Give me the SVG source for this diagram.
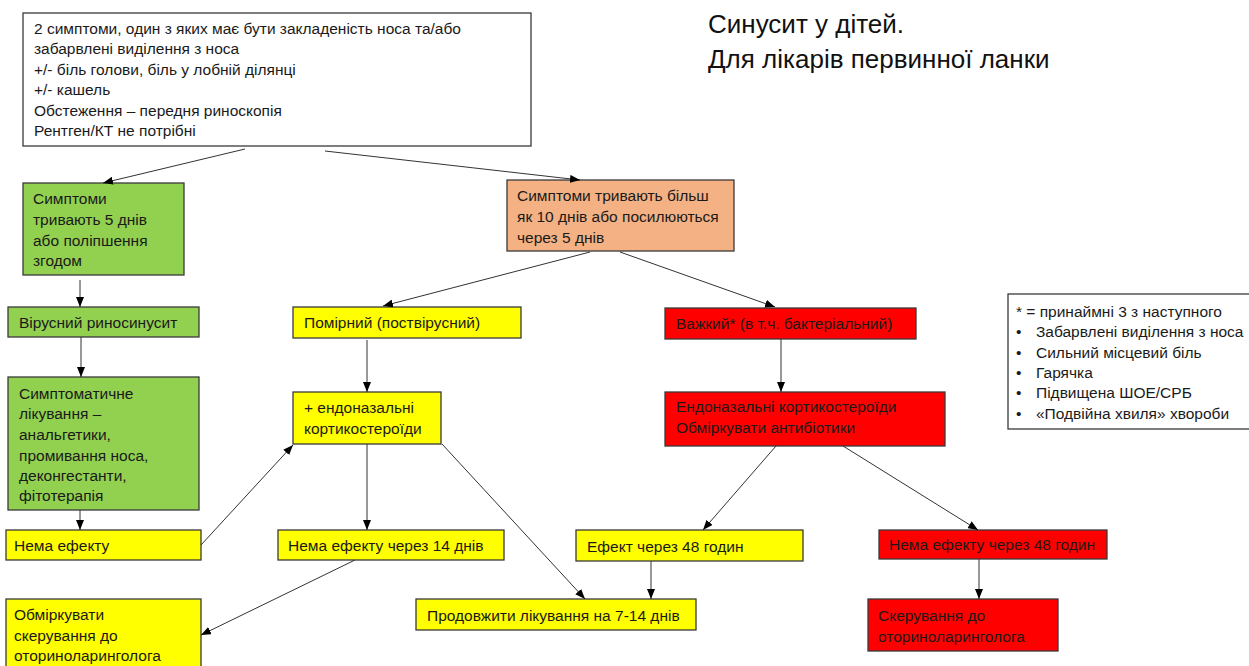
<svg xmlns="http://www.w3.org/2000/svg" width="1249" height="666" viewBox="0 0 1249 666">
<defs>
<marker id="ah" markerUnits="userSpaceOnUse" markerWidth="10" markerHeight="8" refX="10" refY="4" orient="auto">
<path d="M0,0 L10,4 L0,8 z" fill="#000"/>
</marker>
<style>
.b{stroke:#3a3a3a;stroke-width:1.3}
.w{fill:#fff}.g{fill:#92D050}.y{fill:#FFFF00}.r{fill:#FF0000}.o{fill:#F4B183}
text{font-family:"Liberation Sans",Arial,sans-serif;font-size:15.5px;fill:#1a1a1a}
.t{font-size:26px;fill:#111}
.c line{stroke:#333;stroke-width:1;marker-end:url(#ah)}
</style>
</defs>
<rect width="1249" height="666" fill="#fff"/>
<g id="title">
<text class="t" x="708" y="33">Синусит у дітей.</text>
<text class="t" x="708" y="68">Для лікарів первинної ланки</text>
</g>
<g id="n0">
<rect class="b w" x="23" y="13" width="508" height="133"/>
<text x="34" y="34">2 симптоми, один з яких має бути закладеність носа та/або</text>
<text x="34" y="54">забарвлені виділення з носа</text>
<text x="34" y="75">+/- біль голови, біль у лобній ділянці</text>
<text x="34" y="95">+/- кашель</text>
<text x="34" y="116">Обстеження – передня риноскопія</text>
<text x="34" y="136">Рентген/КТ не потрібні</text>
</g>
<g id="n1">
<rect class="b g" x="23" y="183" width="161" height="92"/>
<text x="33" y="204">Симптоми</text>
<text x="33" y="225">тривають 5 днів</text>
<text x="33" y="246">або поліпшення</text>
<text x="33" y="266">згодом</text>
</g>
<g id="n2">
<rect class="b g" x="8" y="307" width="191" height="30"/>
<text x="19" y="328">Вірусний риносинусит</text>
</g>
<g id="n3">
<rect class="b g" x="8" y="377" width="191" height="133"/>
<text x="19" y="399">Симптоматичне</text>
<text x="19" y="419">лікування –</text>
<text x="19" y="440">анальгетики,</text>
<text x="19" y="461">промивання носа,</text>
<text x="19" y="481">деконгестанти,</text>
<text x="19" y="501">фітотерапія</text>
</g>
<g id="n4">
<rect class="b y" x="6" y="530" width="195" height="30"/>
<text x="14" y="551">Нема ефекту</text>
</g>
<g id="n5">
<rect class="b y" x="6" y="599" width="195" height="70"/>
<text x="14" y="620">Обміркувати</text>
<text x="14" y="641">скерування до</text>
<text x="14" y="661">оториноларинголога</text>
</g>
<g id="n6">
<rect class="b o" x="507" y="180" width="227" height="71"/>
<text x="517" y="201">Симптоми тривають більш</text>
<text x="517" y="222">як 10 днів або посилюються</text>
<text x="517" y="243">через 5 днів</text>
</g>
<g id="n7">
<rect class="b y" x="293" y="307" width="228" height="31"/>
<text x="304" y="328">Помірний (поствірусний)</text>
</g>
<g id="n8">
<rect class="b y" x="293" y="392" width="148" height="52"/>
<text x="304" y="413">+ ендоназальні</text>
<text x="304" y="434">кортикостероїди</text>
</g>
<g id="n9">
<rect class="b y" x="278" y="530" width="226" height="30"/>
<text x="288" y="551">Нема ефекту через 14 днів</text>
</g>
<g id="n10">
<rect class="b y" x="416" y="599" width="280" height="31"/>
<text x="427" y="621">Продовжити лікування на 7-14 днів</text>
</g>
<g id="n11">
<rect class="b r" x="665" y="308" width="251" height="31"/>
<text x="676" y="329">Важкий* (в т.ч. бактеріальний)</text>
</g>
<g id="n12">
<rect class="b r" x="665" y="392" width="280" height="54"/>
<text x="676" y="412">Ендоназальні кортикостероїди</text>
<text x="676" y="433">Обміркувати антибіотики</text>
</g>
<g id="n13">
<rect class="b y" x="576" y="530" width="227" height="31"/>
<text x="587" y="552">Ефект через 48 годин</text>
</g>
<g id="n14">
<rect class="b r" x="879" y="530" width="228" height="29"/>
<text x="889" y="550">Нема ефекту через 48 годин</text>
</g>
<g id="n15">
<rect class="b r" x="868" y="599" width="190" height="52"/>
<text x="878" y="621">Скерування до</text>
<text x="878" y="642">оториноларинголога</text>
</g>
<g id="legend">
<rect class="b w" x="1008" y="294" width="245" height="135"/>
<text x="1016" y="317">* = принаймні 3 з наступного</text>
<text x="1016" y="337">•</text><text x="1036" y="337">Забарвлені виділення з носа</text>
<text x="1016" y="358">•</text><text x="1036" y="358">Сильний місцевий біль</text>
<text x="1016" y="378">•</text><text x="1036" y="378">Гарячка</text>
<text x="1016" y="398">•</text><text x="1036" y="398">Підвищена ШОЕ/СРБ</text>
<text x="1016" y="419">•</text><text x="1036" y="419">«Подвійна хвиля» хвороби</text>
</g>
<g id="connectors" class="c">
<line x1="245" y1="149" x2="103" y2="183"/>
<line x1="325" y1="151" x2="580" y2="180"/>
<line x1="80" y1="280" x2="80" y2="307"/>
<line x1="81" y1="337" x2="81" y2="377"/>
<line x1="80" y1="510" x2="80" y2="530"/>
<line x1="201" y1="545" x2="293" y2="445"/>
<line x1="355" y1="560" x2="201" y2="635"/>
<line x1="590" y1="252" x2="383" y2="306"/>
<line x1="620" y1="252" x2="775" y2="307"/>
<line x1="367" y1="340" x2="367" y2="392"/>
<line x1="367" y1="444" x2="367" y2="530"/>
<line x1="442" y1="444" x2="585" y2="599"/>
<line x1="781" y1="339" x2="781" y2="392"/>
<line x1="776" y1="446" x2="703" y2="530"/>
<line x1="843" y1="446" x2="978" y2="530"/>
<line x1="651" y1="561" x2="651" y2="599"/>
<line x1="979" y1="559" x2="979" y2="599"/>
</g>
</svg>
